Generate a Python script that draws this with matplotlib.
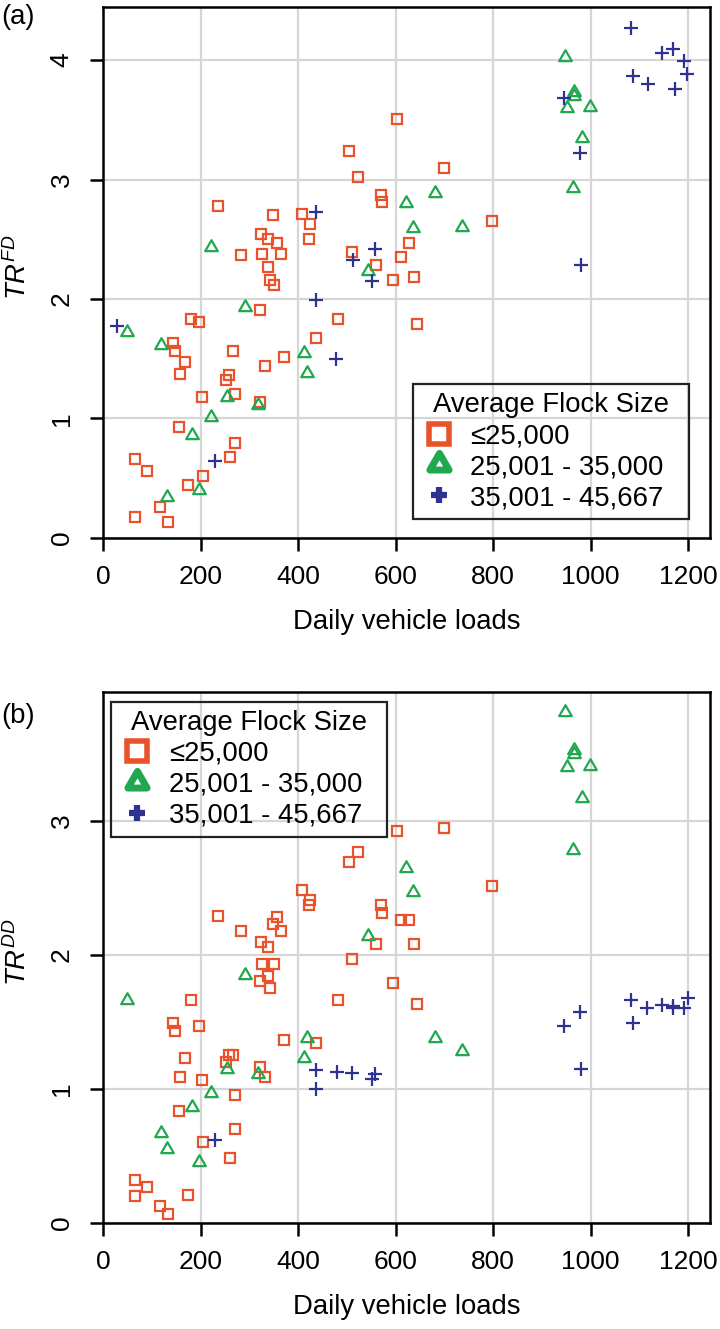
import matplotlib
matplotlib.use("Agg")
import matplotlib.pyplot as plt
from matplotlib.lines import Line2D
from matplotlib.path import Path

plt.rcParams['font.family'] = ['Liberation Sans', 'DejaVu Sans']
plt.rcParams['mathtext.fontset'] = 'custom'
plt.rcParams['mathtext.it'] = 'Liberation Sans:italic'
plt.rcParams['mathtext.rm'] = 'Liberation Sans'

# ---- data ----
# squares: <=25,000 (same farms in both panels)
sq_x = [64.6, 65.4, 90.7, 117.3, 133.7, 144, 148, 155, 158.4, 167, 174.8, 179.5, 196.7,
        202.9, 205, 235, 252.7, 258, 261, 266.5, 270.5, 270.5, 283, 322, 322, 323, 326,
        331, 338, 338, 342, 348, 351, 356, 364, 371, 408, 422, 424, 436, 481, 503.6, 510,
        523, 559, 570.7, 572.7, 594.6, 603, 611, 628, 638, 644, 699, 797.7]
sq_fd = [0.17, 0.66, 0.56, 0.26, 0.13, 1.63, 1.56, 0.93, 1.37, 1.47, 0.44, 1.83, 1.81,
         1.18, 0.52, 2.78, 1.32, 1.36, 0.68, 1.56, 1.20, 0.79, 2.37, 1.91, 1.14, 2.54, 2.38,
         1.44, 2.50, 2.27, 2.16, 2.70, 2.12, 2.47, 2.38, 1.51, 2.71, 2.50, 2.63, 1.67, 1.83,
         3.24, 2.39, 3.02, 2.28, 2.87, 2.81, 2.16, 3.51, 2.35, 2.47, 2.18, 1.79, 3.10, 2.65]
sq_dd = [0.20, 0.32, 0.27, 0.125, 0.063, 1.49, 1.43, 0.83, 1.085, 1.23, 0.21, 1.66, 1.47,
         1.065, 0.60, 2.29, 1.20, 1.25, 0.48, 1.255, 0.955, 0.70, 2.175, 1.80, 1.16, 2.095,
         1.93, 1.09, 2.06, 1.84, 1.75, 2.23, 1.93, 2.28, 2.18, 1.36, 2.48, 2.37, 2.41, 1.34,
         1.66, 2.69, 1.97, 2.77, 2.08, 2.37, 2.31, 1.79, 2.92, 2.26, 2.26, 2.08, 1.63, 2.945,
         2.51]

# triangles: 25,001 - 35,000
tri_x_fd = [49.6, 118, 131, 181.6, 196, 220.5, 220.5, 254, 291.7, 318, 412.7, 418, 542.6,
            620.5, 635, 681.4, 736, 947, 951.5, 963, 965, 965, 982, 999]
tri_fd = [1.72, 1.61, 0.34, 0.86, 0.40, 2.435, 1.01, 1.18, 1.93, 1.11, 1.55, 1.38, 2.23,
          2.80, 2.59, 2.89, 2.60, 4.03, 3.60, 2.93, 3.73, 3.70, 3.35, 3.61]
tri_x_dd = [49.6, 119, 131, 181.6, 196, 220.5, 254, 291.7, 318, 412.7, 418, 542.6,
            620.5, 635, 681.4, 736, 947, 951.5, 963, 965, 965, 982, 999]
tri_dd = [1.66, 0.67, 0.55, 0.86, 0.455, 0.97, 1.15, 1.85, 1.11, 1.23, 1.38, 2.14,
          2.65, 2.47, 1.38, 1.28, 3.81, 3.40, 2.78, 3.53, 3.50, 3.17, 3.41]

# plus: 35,001 - 45,667
pl_x_fd = [28.5, 230, 437, 437, 477.7, 512.6, 551.6, 557, 946, 979, 981, 1083, 1088, 1117,
           1146.5, 1170, 1174, 1192, 1197.7]
pl_fd = [1.77, 0.64, 2.725, 1.99, 1.50, 2.33, 2.15, 2.415, 3.685, 3.22, 2.28, 4.27, 3.87,
         3.80, 4.06, 4.09, 3.755, 3.99, 3.88]
pl_x_dd = [230, 437, 437, 480, 510.5, 551.6, 557, 946, 978, 981, 1083, 1088, 1116, 1146.5,
           1170, 1170, 1192, 1199]
pl_dd = [0.615, 1.14, 1.00, 1.127, 1.12, 1.07, 1.11, 1.47, 1.57, 1.15, 1.66, 1.49, 1.60,
         1.625, 1.62, 1.60, 1.60, 1.675]

group_labels = ['\u226425,000', '25,001 - 35,000', '35,001 - 45,667']
legend_title = 'Average Flock Size'
x_ticks = [0, 200, 400, 600, 800, 1000, 1200]

c_sq = '#E8532C'
c_tri = '#1FA84F'
c_pl = '#2E3391'
# equilateral open triangle like R's pch=2
tri = Path([(-1, -0.577), (1, -0.577), (0, 1.155), (-1, -0.577)],
           [Path.MOVETO, Path.LINETO, Path.LINETO, Path.CLOSEPOLY])
fs = 19.8
tfs = 19

W, H = 720, 1329
fig = plt.figure(figsize=(W / 100, H / 100), dpi=100)


def panel(rect, sx, sy, tx, ty, px, py, ylim, yticks, ylab, leg_loc, leg_box):
    ax = fig.add_axes(rect)
    ax.set_axisbelow(True)
    ax.grid(True, color='#d6d6d6', lw=1.6)
    ax.plot(sx, sy, ls='none', marker='s', ms=7.2, mew=1.6, mfc='none', mec=c_sq)
    ax.plot(tx, ty, ls='none', marker=tri, ms=10.5, mew=1.6, mfc='none', mec=c_tri)
    ax.plot(px, py, ls='none', marker='+', ms=10, mew=1.6, color=c_pl)
    ax.set_xlim(0, 1245)
    ax.set_ylim(*ylim)
    ax.set_xticks(x_ticks)
    ax.set_yticks(yticks, labels=[str(v) for v in yticks], rotation=90, va='center')
    for s in ax.spines.values():
        s.set_linewidth(1.8)
    ax.tick_params(width=1.8, length=9.4, labelsize=tfs, pad=12)
    ax.tick_params(axis='x', pad=10)
    ax.set_xlabel('Daily vehicle loads', fontsize=fs)
    ax.xaxis.set_label_coords(0.5, -0.135)
    ax.set_ylabel(ylab, fontsize=fs)
    ax.yaxis.set_label_coords(-0.118, 0.51)
    handles = [
        Line2D([], [], ls='none', marker='s', ms=14.5, mew=4, mfc='none', mec=c_sq),
        Line2D([], [], ls='none', marker=tri, ms=16, mew=5, mfc='none', mec=c_tri),
        Line2D([], [], ls='none', marker='+', ms=12, mew=4.5, color=c_pl),
    ]
    leg = ax.legend(handles, group_labels, title=legend_title, loc=leg_loc,
                    bbox_to_anchor=leg_box, mode='expand', fontsize=fs,
                    title_fontsize=fs, frameon=True, fancybox=False, facecolor='none',
                    edgecolor='#222222', borderpad=0.3, labelspacing=0.18,
                    handlelength=1.3, handletextpad=0.5, borderaxespad=0)
    leg.get_frame().set_linewidth(1.6)
    leg.get_frame().set_alpha(None)
    return ax


panel([103.3 / W, 1 - 537.7 / H, 606.7 / W, 530.7 / H],
      sq_x, sq_fd, tri_x_fd, tri_fd, pl_x_fd, pl_fd,
      (0, 4.445), [0, 1, 2, 3, 4], r'$TR^{FD}$', 'lower right',
      (0.51, 0.0347, 0.4554, 0.2468))
panel([103.3 / W, 1 - 1222.7 / H, 606.7 / W, 530.4 / H],
      sq_x, sq_dd, tri_x_dd, tri_dd, pl_x_dd, pl_dd,
      (0, 3.958), [0, 1, 2, 3], r'$TR^{DD}$', 'upper left',
      (0.0127, 0.7372, 0.4549, 0.2451))

fig.text(1 / W, 1 - 17 / H, '(a)', fontsize=fs, ha='left', va='center')
fig.text(1 / W, 1 - 716 / H, '(b)', fontsize=fs, ha='left', va='center')

fig.savefig('out.png', dpi=100)
